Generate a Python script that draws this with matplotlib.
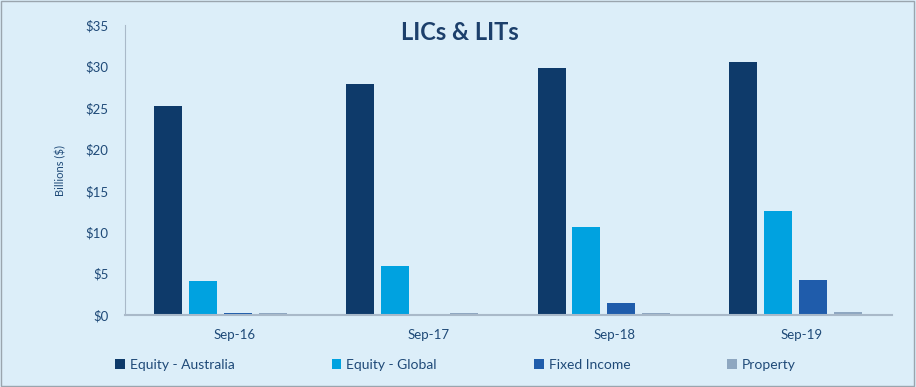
import numpy as np
import matplotlib
matplotlib.use("Agg")
from matplotlib import pyplot as plt

categories = ["Sep-16", "Sep-17", "Sep-18", "Sep-19"]
series_names = ["Equity - Australia", "Equity - Global", "Fixed Income", "Property"]
equity_aus = [25.2, 27.9, 29.8, 30.6]
equity_global = [4.1, 5.9, 10.6, 12.5]
fixed_income = [0.25, 0.1, 1.45, 4.2]
property_ = [0.2, 0.2, 0.3, 0.35]
y_ticks = [0, 5, 10, 15, 20, 25, 30, 35]

colors = ["#0E3A6A", "#00A2E0", "#1F5CAB", "#8EA7C1"]
bg = "#DCEEF9"
text_col = "#1F4A78"

plt.rcParams["font.family"] = ["Lato", "DejaVu Sans"]

fig = plt.figure(figsize=(9.16, 3.87), dpi=100, facecolor=bg)
ax = fig.add_axes([0.1365, 0.186, 0.8375, 0.749])
ax.set_facecolor(bg)

x = np.arange(len(categories))
step = 0.182
width = 0.146
start = 0.151
for i, (vals, name) in enumerate(zip([equity_aus, equity_global, fixed_income, property_], series_names)):
    ax.bar(x + start + i * step, vals, width=width, align="edge",
           color=colors[i], label=name, edgecolor="none")

ax.set_xlim(0, 4)
ax.set_ylim(0, 35)
ax.set_yticks(y_ticks)
ax.set_yticklabels([f"${v}" for v in y_ticks])
ax.set_xticks(x + [0.57, 0.58, 0.55, 0.53])
ax.set_xticklabels(categories)
ax.tick_params(axis="both", length=0, colors=text_col, labelsize=9.5)
ax.tick_params(axis="x", pad=10)
ax.tick_params(axis="y", pad=12)
for s in ["top", "right"]:
    ax.spines[s].set_visible(False)
ax.spines["left"].set_color("#A9B9C9")
ax.spines["bottom"].set_color("#A9B9C9")
ax.spines["bottom"].set_linewidth(1.5)

ax.set_ylabel("Billions ($)", color=text_col, fontsize=8, labelpad=14)
fig.text(0.502, 0.915, "LICs & LITs", ha="center", va="center",
         fontsize=17, fontweight="bold", color="#1C3F6B")

fig.legend(loc="center left", bbox_to_anchor=(0.112, 0.058), ncol=4, frameon=False,
           handlelength=0.7, handleheight=0.7, handletextpad=0.35, columnspacing=7.0,
           fontsize=10, labelcolor=text_col)

fig.patches.append(plt.Rectangle((0.001, 0.002), 0.997, 0.995, transform=fig.transFigure,
                                 fill=False, edgecolor="#9AA5AE", linewidth=1))

fig.savefig("out.png", dpi=100, facecolor=bg)
